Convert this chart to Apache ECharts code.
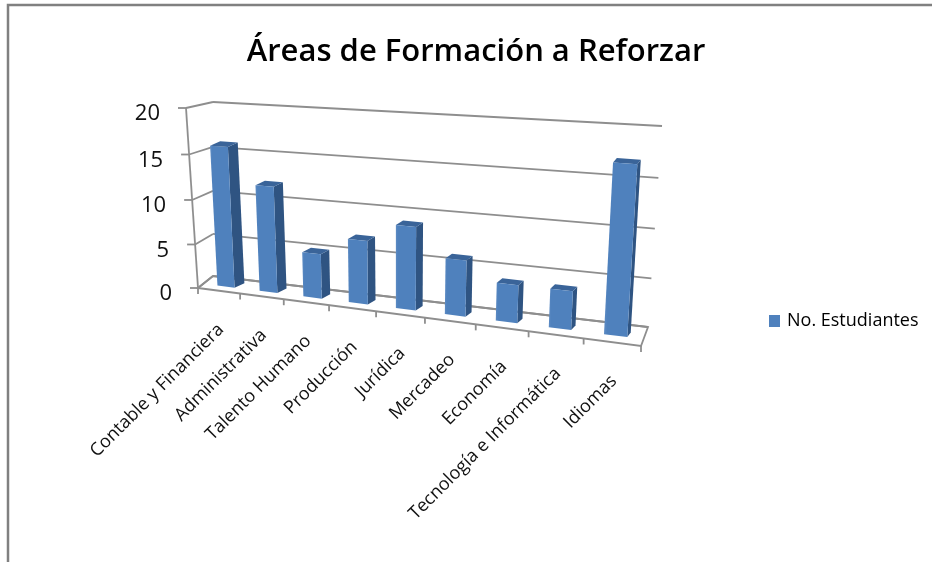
<!DOCTYPE html>
<html><head><meta charset="utf-8">
<script src="https://cdn.jsdelivr.net/npm/echarts@6/dist/echarts.min.js"></script>
<style>html,body{margin:0;padding:0;background:#fff}#c{width:932px;height:562px}</style>
</head><body><div id="c"></div>
<script>
const titleText = 'Áreas de Formación a Reforzar';
const seriesName = 'No. Estudiantes';
const categories = ['Contable y Financiera','Administrativa','Talento Humano','Producción','Jurídica','Mercadeo','Economía','Tecnología e Informática','Idiomas'];
const values = [16, 12, 5, 7, 9, 6, 4, 4, 17];
const valueTicks = [0, 5, 10, 15, 20];

// Oblique view of the plot box: pixel corners of the planes that the grid is projected on
const wallFront = {bl:[198,288], br:[641,346], tl:[186,108], tr:[653,138]};
const wallBack  = {bl:[213,276], br:[648,327], tl:[213,102], tr:[662,126]};
const barFront  = {bl:[205.3,284], br:[644.3,339.2], tl:[195.4,108.5], tr:[657.1,133.2]};
const barBack   = {bl:[215.6,279.5], br:[647.5,334.7], tl:[205.7,104], tr:[660.3,128.7]};
const kU = 1.19, kV = 1.045;
const persp = (t,k) => t/(t+k*(1-t));
const lerp = (a,b,t) => [a[0]+(b[0]-a[0])*t, a[1]+(b[1]-a[1])*t];
function plane(p,u,v){
  const U = persp(u,kU), V = persp(v,kV);
  return lerp(lerp(p.bl,p.br,U), lerp(p.tl,p.tr,U), V);
}
// grid pixel -> normalised (u,v)
const norm = (pt,cs) => [(pt[0]-cs.x)/cs.width, (cs.y+cs.height-pt[1])/cs.height];

const C = {front:'#4F81BD', frontLight:'#5E8CC4', side:'#2F5482', top:'#3A6499', grid:'#8E8E8E', axis:'#8E8E8E'};
const FONT = '"Open Sans"';
const line = (a,b,w,c) => ({type:'line',shape:{x1:a[0],y1:a[1],x2:b[0],y2:b[1]},style:{stroke:c||C.grid,lineWidth:w||1.8},silent:true});

function renderFloor(params,api){
  const pts=[plane(wallFront,0,0),plane(wallFront,1,0),plane(wallBack,1,0),plane(wallBack,0,0)];
  return {type:'polygon',shape:{points:pts},style:{fill:'#fff',stroke:C.grid,lineWidth:1.8}};
}
function renderWall(params,api){
  const cs=params.coordSys;
  const v=norm(api.coord([0,api.value(1)]),cs)[1];
  const a=plane(wallFront,0,v), b=plane(wallBack,0,v), c=plane(wallBack,1,v);
  const children=[line(a,b),line(b,c),line([a[0]-8,a[1]],a,1.8,C.axis)];
  const t=api.value(1);
  children.push({type:'text',x:a[0]-26,y:a[1]+6,style:{text:String(t),textAlign:'right',textVerticalAlign:'middle',font:'22px '+FONT,fill:'#111'},silent:true});
  return {type:'group',children};
}
function renderAxis(params,api){
  const a=plane(wallFront,0,0), b=plane(wallFront,0,1);
  return line(a,b,1.8,C.axis);
}
function renderXTick(params,api){
  const cs=params.coordSys, band=api.size([1,0])[0];
  const ctr=api.coord([api.value(0),0]);
  const uC=(ctr[0]-cs.x)/cs.width, du=band/cs.width/2;
  const l=plane(wallFront,uC-du,0), r=plane(wallFront,uC+du,0), m=plane(wallFront,uC,0);
  const children=[line(r,[r[0],r[1]+6],1.8,C.axis)];
  if(api.value(0)===0) children.push(line(l,[l[0],l[1]+6],1.8,C.axis));
  children.push({type:'text',x:m[0]+2,y:m[1]+36,rotation:Math.PI/4,
    style:{text:categories[api.value(0)],textAlign:'right',textVerticalAlign:'middle',font:'18px '+FONT,fill:'#111'},silent:true});
  return {type:'group',children};
}
function renderBar(params,api){
  const cs=params.coordSys, band=api.size([1,0])[0];
  const base=api.coord([api.value(0),0]), head=api.coord([api.value(0),api.value(1)]);
  const uC=norm(base,cs)[0], v=norm(head,cs)[1], du=band/cs.width*0.41/2;
  const u0=uC-du,u1=uC+du;
  const f=[plane(barFront,u0,0),plane(barFront,u1,0),plane(barFront,u1,v),plane(barFront,u0,v)];
  const b=[plane(barBack,u0,0),plane(barBack,u1,0),plane(barBack,u1,v),plane(barBack,u0,v)];
  const grad=new echarts.graphic.LinearGradient(0,0,1,0,[{offset:0,color:C.frontLight},{offset:0.1,color:C.front},{offset:1,color:C.front}]);
  return {type:'group',children:[
    {type:'polygon',shape:{points:[f[1],b[1],b[2],f[2]]},style:{fill:C.side}},
    {type:'polygon',shape:{points:[f[3],f[2],b[2],b[3]]},style:{fill:C.top}},
    {type:'polygon',shape:{points:f},style:{fill:grad}}
  ]};
}
const tickRows = valueTicks.map(t=>[0,t]);
const catRows = categories.map((c,i)=>[i,0]);
const barRows = values.map((v,i)=>[i,v]);
const chart = echarts.init(document.getElementById('c'),null,{renderer:'canvas'});
chart.setOption({
  animation:false,
  backgroundColor:'#fff',
  title:{text:titleText,left:471,top:32,textAlign:'center',textStyle:{fontFamily:FONT,fontSize:31,fontWeight:600,color:'#000'}},
  legend:{data:[seriesName],left:769,top:312,padding:0,itemWidth:11,itemHeight:12,itemGap:0,icon:'rect',
    textStyle:{fontFamily:FONT,fontSize:18,color:'#000',padding:[0,0,0,2]}},
  grid:{left:100,top:100,width:600,height:200,show:false},
  xAxis:{type:'category',data:categories,show:false},
  yAxis:{type:'value',min:0,max:20,interval:5,show:false},
  graphic:[{type:'polyline',shape:{points:[[8,562],[8,5],[932,5]]},style:{stroke:'#808080',fill:null,lineWidth:2.5},silent:true}],
  series:[
    {type:'custom',name:'floor',renderItem:renderFloor,data:[[0,0]],encode:{x:0,y:1},silent:true},
    {type:'custom',name:'walls',renderItem:renderWall,data:tickRows,encode:{x:0,y:1},silent:true},
    {type:'custom',name:'axis',renderItem:renderAxis,data:[[0,0]],encode:{x:0,y:1},silent:true},
    {type:'custom',name:'xticks',renderItem:renderXTick,data:catRows,encode:{x:0,y:1},silent:true},
    {type:'custom',name:seriesName,renderItem:renderBar,data:barRows,encode:{x:0,y:1},itemStyle:{color:C.front},silent:true}
  ]
});
</script></body></html>
